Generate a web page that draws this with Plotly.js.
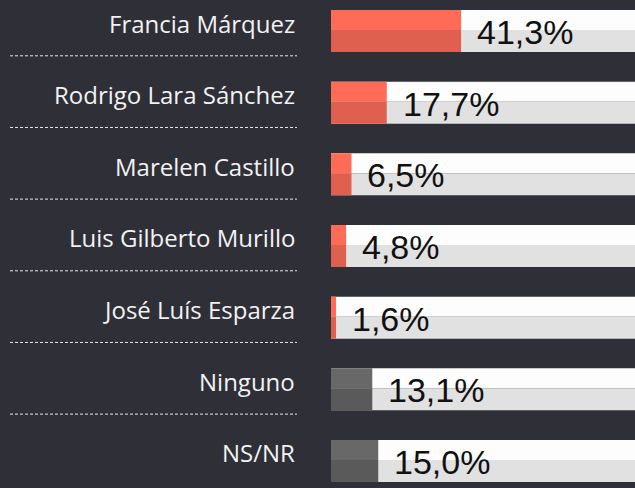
<!DOCTYPE html>
<html>
<head>
<meta charset="utf-8">
<script src="https://cdn.plot.ly/plotly-3.0.1.min.js"></script>
<style>
html,body{margin:0;padding:0;background:#2f2f38;}
#chart{width:635px;height:488px;}
</style>
</head>
<body>
<div id="chart"></div>
<script>
// Data
const categories = ["Francia Márquez","Rodrigo Lara Sánchez","Marelen Castillo","Luis Gilberto Murillo","José Luís Esparza","Ninguno","NS/NR"];
const values = [41.3, 17.7, 6.5, 4.8, 1.6, 13.1, 15.0];
const valueLabels = ["41,3%","17,7%","6,5%","4,8%","1,6%","13,1%","15,0%"];
const isCandidate = [true, true, true, true, true, false, false];

const idx = categories.map((c,i)=>i);
const yTop = -0.4186, yBot = 6.391; // axis range (reversed)
const topW = 0.279, botW = 0.307;

const topColors = isCandidate.map(c => c ? "#fe6b57" : "#686868");
const botColors = isCandidate.map(c => c ? "#e0604f" : "#5a5a5a");
const full = idx.map(()=>100);

const traces = [
  {type:"bar", orientation:"h", y:idx, x:full, width:topW, offset:-topW, marker:{color:"#fdfdfd"}, hoverinfo:"skip"},
  {type:"bar", orientation:"h", y:idx, x:full, width:botW, offset:0, marker:{color:"#e1e1e1"}, hoverinfo:"skip"},
  {type:"bar", orientation:"h", y:idx, x:values, width:topW, offset:-topW, marker:{color:topColors}, hoverinfo:"skip"},
  {type:"bar", orientation:"h", y:idx, x:values, width:botW, offset:0, marker:{color:botColors}, hoverinfo:"skip"}
];

const annotations = [];
idx.forEach(i => {
  annotations.push({x:values[i], y:i, xref:"x", yref:"y", text:valueLabels[i], showarrow:false,
    xanchor:"left", yanchor:"middle", xshift:14, yshift:-2,
    font:{family:"Liberation Sans, Arial, sans-serif", size:34, color:"#111111"}});
  annotations.push({x:-34/304, y:i, xref:"paper", yref:"y", text:categories[i], showarrow:false,
    xanchor:"right", yanchor:"middle", yshift:7,
    font:{family:"Open Sans, sans-serif", size:24, color:"#f2f2f2"}});
});

const toPaper = v => (yBot - v) / (yBot - yTop);
const shapes = idx.slice(0, idx.length-1).map(i => ({
  type:"line", xref:"paper", yref:"paper",
  x0:(10-331)/304, x1:(297-331)/304, y0:toPaper(i+0.36), y1:toPaper(i+0.36),
  line:{color:"#e8e8e8", width:1, dash:"3px,2px"}
}));

const layout = {
  width:635, height:488,
  margin:{l:331, r:0, t:0, b:0, pad:0},
  paper_bgcolor:"#2f2f38", plot_bgcolor:"#2f2f38",
  barmode:"overlay", showlegend:false,
  xaxis:{range:[0,96.5], visible:false, fixedrange:true},
  yaxis:{range:[yBot, yTop], visible:false, fixedrange:true},
  annotations, shapes
};

Plotly.newPlot("chart", traces, layout, {displayModeBar:false, staticPlot:true});
</script>
</body>
</html>
